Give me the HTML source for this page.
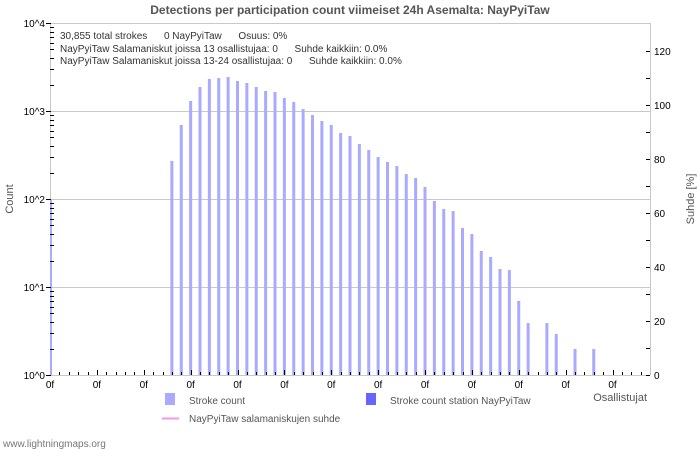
<!DOCTYPE html>
<html><head><meta charset="utf-8"><style>
body{margin:0;background:#fff;width:700px;height:450px;overflow:hidden}
svg{display:block;font-family:"Liberation Sans","DejaVu Sans",sans-serif}
</style></head><body>
<svg id="s" width="700" height="450" xmlns="http://www.w3.org/2000/svg">
<text x="350" y="14" text-anchor="middle" font-size="12" font-weight="bold" fill="#555">Detections per participation count viimeiset 24h Asemalta: NayPyiTaw</text>
<g stroke="#c8c8c8" stroke-width="1">
<line x1="50" y1="23.5" x2="650" y2="23.5"/>
<line x1="50" y1="111.5" x2="650" y2="111.5"/>
<line x1="50" y1="199.5" x2="650" y2="199.5"/>
<line x1="50" y1="287.5" x2="650" y2="287.5"/>
<line x1="650.5" y1="23" x2="650.5" y2="375"/>
<line x1="50.5" y1="23" x2="50.5" y2="375"/>
<line x1="50" y1="375.5" x2="650" y2="375.5"/>
</g>
<g id="bars" fill="#aaaaff"></g>
<g id="ticks" stroke="#000" stroke-width="1"></g>
<g font-size="10" fill="#333">
<text x="60" y="39">30,855 total strokes &#160;&#160;&#160;&#160; 0 NayPyiTaw &#160;&#160;&#160;&#160; Osuus: 0%</text>
<text x="60" y="52">NayPyiTaw Salamaniskut joissa 13 osallistujaa: 0 &#160;&#160;&#160;&#160; Suhde kaikkiin: 0.0%</text>
<text x="60" y="64">NayPyiTaw Salamaniskut joissa 13-24 osallistujaa: 0 &#160;&#160;&#160;&#160; Suhde kaikkiin: 0.0%</text>
</g>
<g font-size="10" fill="#000" text-anchor="end">
<text x="45" y="27">10^4</text><text x="45" y="115">10^3</text><text x="45" y="203">10^2</text><text x="45" y="291">10^1</text><text x="45" y="379">10^0</text>
</g>
<g id="rl" font-size="10" fill="#000"></g>
<g id="xl" font-size="10" fill="#000" text-anchor="middle"></g>
<text transform="translate(13,199) rotate(-90)" text-anchor="middle" font-size="11" fill="#555">Count</text>
<text transform="translate(694,199) rotate(-90)" text-anchor="middle" font-size="11" fill="#555">Suhde [%]</text>
<text x="647" y="401" text-anchor="end" font-size="11" fill="#555">Osallistujat</text>
<rect x="165" y="393" width="10" height="12" fill="#aaaaff"/>
<text x="189" y="404" font-size="10" fill="#555">Stroke count</text>
<rect x="366" y="393" width="10" height="12" fill="#6666ff"/>
<text x="390" y="404" font-size="10" fill="#555">Stroke count station NayPyiTaw</text>
<line x1="162" y1="418.5" x2="179" y2="418.5" stroke="#ee99ee" stroke-width="2"/>
<text x="189" y="422" font-size="10" fill="#555">NayPyiTaw salamaniskujen suhde</text>
<text x="3" y="447" font-size="10" fill="#777">www.lightningmaps.org</text>
</svg>
<script>
var tops={0:200,13:161,14:125,15:101,16:87,17:79,18:78,19:77,20:81,21:83,22:87,23:91,24:92,25:98,26:102,27:109,28:115,29:121,30:125,31:133,32:136,33:144,34:150,35:157,36:162,37:166,38:174,39:178,40:187,41:201,42:209,43:211,44:228,45:234,46:251,47:257,48:269,49:270,50:301,51:323,53:323,54:334,56:349,58:349};
var ns="http://www.w3.org/2000/svg",b=document.getElementById('bars'),t=document.getElementById('ticks'),xl=document.getElementById('xl'),rl=document.getElementById('rl');
function el(g,n,a,txt){var e=document.createElementNS(ns,n);for(var k in a)e.setAttribute(k,a[k]);if(txt)e.textContent=txt;g.appendChild(e);}
for(var i=0;i<64;i++){var x=50+i*9.375;
 if(tops[i]!==undefined){var w=i==0?2:3;el(b,'rect',{x:i==0?50:x-1.5,y:tops[i],width:w,height:375-tops[i]});}
 var tx=Math.round(x)+0.5;if(i>0)el(t,'line',{x1:tx,y1:i%5==0?370:372,x2:tx,y2:375});
 if(i%5==0)el(xl,'text',{x:x,y:388},'0f');}
for(var d=0;d<4;d++)for(var m=2;m<10;m++){var y=Math.round(375-88*d-88*Math.log10(m))+0.5;el(t,'line',{x1:50,y1:y,x2:54,y2:y});}
for(var d=0;d<=4;d++){var y=375-88*d+0.5;el(t,'line',{x1:46,y1:y,x2:51,y2:y});}
for(var p=0;p<=120;p+=10){var y=Math.round(375-p*2.7)+0.5;el(t,'line',{x1:646,y1:y,x2:650,y2:y});if(p%20==0)el(rl,'text',{x:654,y:y+3.5},String(p));}
</script>
</body></html>
